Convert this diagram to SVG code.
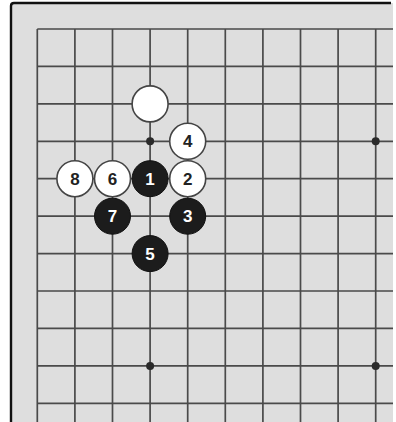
<svg xmlns="http://www.w3.org/2000/svg" width="396" height="422" viewBox="0 0 396 422">
<style>
.g{stroke:#4a4a4a;stroke-width:1.7;fill:none}
.hoshi{fill:#2a2a2a}
.w{fill:#fff;stroke:#444;stroke-width:1.6}
.b{fill:#1c1c1c;stroke:#111;stroke-width:1}
.tw{fill:#fff;font-family:"Liberation Sans",Arial,sans-serif;font-weight:bold;font-size:17px;text-anchor:middle}
.tb{fill:#222;font-family:"Liberation Sans",Arial,sans-serif;font-weight:bold;font-size:17px;text-anchor:middle}
</style>
<rect x="0" y="0" width="396" height="422" fill="#fff"/>
<rect x="11" y="3" width="382" height="419" fill="#dedede"/>
<path d="M11,422 V6 Q11,3 14,3 H391" stroke="#111" stroke-width="2.4" fill="none"/>
<g id="grid">
<path class="g" d="M37.3,29 V422 M74.9,29 V422 M112.5,29 V422 M150.1,29 V422 M187.7,29 V422 M225.3,29 V422 M262.9,29 V422 M300.5,29 V422 M338.1,29 V422 M375.7,29 V422"/>
<path class="g" d="M37.3,29 H393 M37.3,66.4 H393 M37.3,103.9 H393 M37.3,141.3 H393 M37.3,178.7 H393 M37.3,216.2 H393 M37.3,253.6 H393 M37.3,291 H393 M37.3,328.4 H393 M37.3,365.9 H393 M37.3,403.3 H393"/>
<circle class="hoshi" cx="150.1" cy="141.3" r="4"/>
<circle class="hoshi" cx="375.7" cy="141.3" r="4"/>
<circle class="hoshi" cx="150.1" cy="365.9" r="4"/>
<circle class="hoshi" cx="375.7" cy="365.9" r="4"/>
</g>
<g id="stone-w0"><circle class="w" cx="150.1" cy="103.9" r="18"/></g>
<g id="stone-4"><circle class="w" cx="187.7" cy="141.3" r="18"/><text class="tb" x="187.7" y="147.4">4</text></g>
<g id="stone-8"><circle class="w" cx="74.9" cy="178.7" r="18"/><text class="tb" x="74.9" y="184.8">8</text></g>
<g id="stone-6"><circle class="w" cx="112.5" cy="178.7" r="18"/><text class="tb" x="112.5" y="184.8">6</text></g>
<g id="stone-1"><circle class="b" cx="150.1" cy="178.7" r="18"/><text class="tw" x="150.1" y="184.8">1</text></g>
<g id="stone-2"><circle class="w" cx="187.7" cy="178.7" r="18"/><text class="tb" x="187.7" y="184.8">2</text></g>
<g id="stone-7"><circle class="b" cx="112.5" cy="216.2" r="18"/><text class="tw" x="112.5" y="222.3">7</text></g>
<g id="stone-3"><circle class="b" cx="187.7" cy="216.2" r="18"/><text class="tw" x="187.7" y="222.3">3</text></g>
<g id="stone-5"><circle class="b" cx="150.1" cy="253.6" r="18"/><text class="tw" x="150.1" y="259.7">5</text></g>
</svg>
